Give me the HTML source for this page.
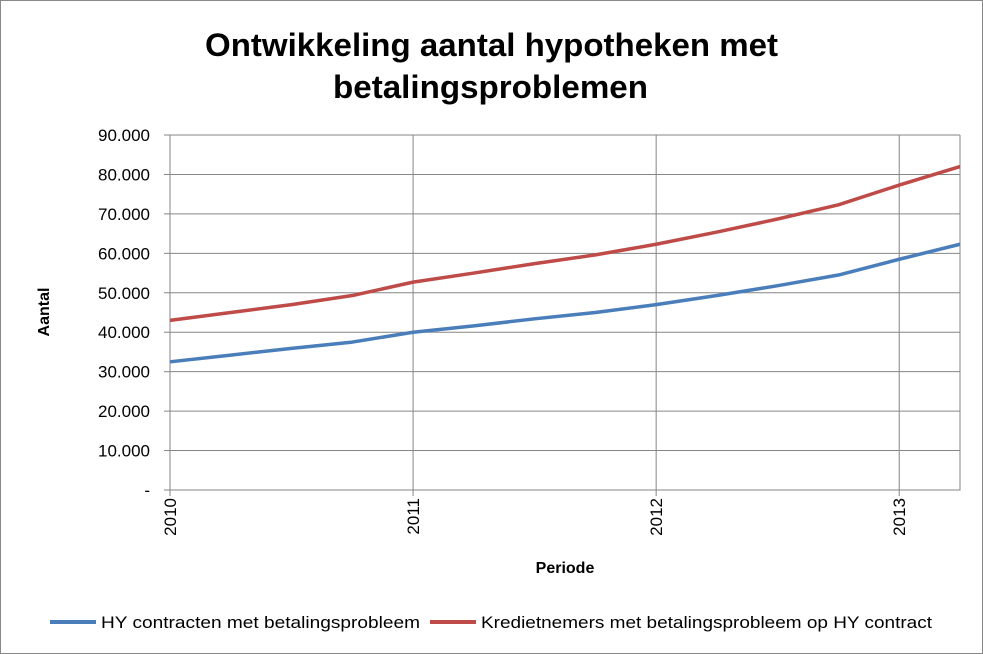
<!DOCTYPE html>
<html><head><meta charset="utf-8"><style>
body{margin:0;background:#fff;}
svg{display:block;font-family:"Liberation Sans",sans-serif;}
</style></head><body>
<svg id="chart" width="983" height="654" viewBox="0 0 983 654">
<rect x="0.5" y="0.5" width="982" height="653" fill="#fff" stroke="#888"/>
<text x="205" y="56" textLength="573" lengthAdjust="spacingAndGlyphs" font-size="32" font-weight="bold">Ontwikkeling aantal hypotheken met</text>
<text x="333" y="98" textLength="315" lengthAdjust="spacingAndGlyphs" font-size="32" font-weight="bold">betalingsproblemen</text>
<g id="grid"></g><g id="axes"></g><g id="series"></g>
<text x="49" y="312" transform="rotate(-90 49 312)" text-anchor="middle" font-size="16" font-weight="bold">Aantal</text>
<text x="565" y="573" text-anchor="middle" font-size="16" font-weight="bold">Periode</text>
<g>
<line x1="50" y1="622" x2="96" y2="622" stroke="#4a7ebb" stroke-width="4"/>
<text x="101" y="628" textLength="319" lengthAdjust="spacingAndGlyphs" font-size="17">HY contracten met betalingsprobleem</text>
<line x1="430" y1="622" x2="476" y2="622" stroke="#be4b48" stroke-width="4"/>
<text x="481" y="628" textLength="451" lengthAdjust="spacingAndGlyphs" font-size="17">Kredietnemers met betalingsprobleem op HY contract</text>
</g>
</svg>
<script>
const periods=[2010,2010.25,2010.5,2010.75,2011,2011.25,2011.5,2011.75,2012,2012.25,2012.5,2012.75,2013,2013.25];
const hyValues=[32500,34200,35900,37500,40000,41600,43400,45000,47000,49300,51800,54500,58500,62300];
const kredietValues=[43000,45000,47000,49300,52700,55000,57400,59600,62300,65400,68700,72300,77300,82000];
const yTicks=[0,10000,20000,30000,40000,50000,60000,70000,80000,90000];
const yTickLabels=["-","10.000","20.000","30.000","40.000","50.000","60.000","70.000","80.000","90.000"];
const xTicks=[2010,2011,2012,2013];
const NS="http://www.w3.org/2000/svg";
const X0=170,X1=960,Y0=490,Y1=135;
const x=v=>X0+(v-2010)/(2013.25-2010)*(X1-X0);
const y=v=>Y0-v/90000*(Y0-Y1);
function mk(t,a,p){const e=document.createElementNS(NS,t);for(const k in a)e.setAttribute(k,a[k]);p.appendChild(e);return e;}
const grid=document.getElementById('grid'),axes=document.getElementById('axes'),ser=document.getElementById('series');
yTicks.forEach((t,i)=>{
 if(t>0){const g=mk('line',{x1:X0,x2:X1,y1:y(t),y2:y(t),stroke:'#868686','stroke-width':1},grid);
 
 }
 const tk=mk('line',{x1:X0-6,x2:X0,y1:y(t),y2:y(t),stroke:'#868686'},axes);
 
 
 const l=mk('text',{x:X0-20,y:y(t)+6,'text-anchor':'end','font-size':17},axes);l.textContent=yTickLabels[i];
 
 
});
xTicks.forEach(t=>{
 const g=mk('line',{x1:x(t),x2:x(t),y1:Y1,y2:Y0+6,stroke:'#868686'},grid);
 
 
 const l=mk('text',{x:0,y:0,'font-size':17,'text-anchor':'end',transform:`translate(${x(t)+6},${Y0+8}) rotate(-90)`},axes);l.textContent=String(t);
 
 
});
const ax=mk('path',{d:`M${X0},${Y1}V${Y0}H${X1}V${Y1}`,fill:'none',stroke:'#868686'},axes);


function line(vals,color,name){
 const p=mk('polyline',{points:vals.map((v,i)=>x(periods[i])+','+y(v)).join(' '),fill:'none',stroke:color,'stroke-width':3.5,'stroke-linejoin':'round'},ser);
 
 
}
line(hyValues,'#4a7ebb','line-hy-contracten');
line(kredietValues,'#be4b48','line-kredietnemers');
</script>
</body></html>
